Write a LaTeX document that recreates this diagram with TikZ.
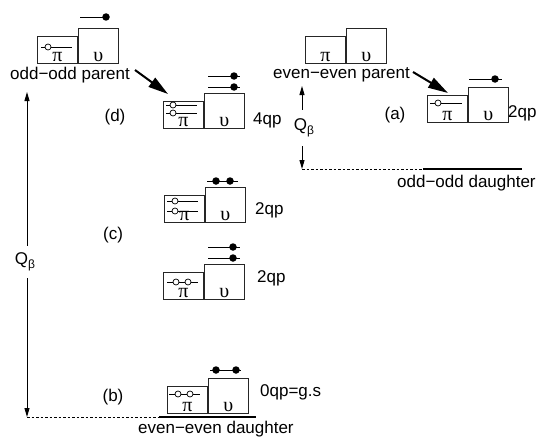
\documentclass[tikz,border=0pt]{standalone}
\usepackage{fontspec}
\setmainfont{Liberation Sans}
\newfontfamily\grkfont{Liberation Serif}
\usetikzlibrary{arrows.meta,calc}
\newcommand\nucpair[3]{%
  \node[pbox] (#1p) at (#2,#3) {};
  \node[nbox] (#1n) at (#1p.south east) {};
  \node[anchor=base, font=\grkfont\fontsize{20}{22}\selectfont] (#1pl) at ($(#1p.south)+(0,-3)$) {π};
  \node[anchor=base, font=\grkfont\fontsize{20}{22}\selectfont] (#1nl) at ($(#1n.south)+(0,-3)$) {υ};
}
\begin{document}
\begin{tikzpicture}[x=1pt,y=-1pt,
  every node/.style={font=\fontsize{17}{20}\selectfont, inner sep=0pt},
  pbox/.style={draw=black!85, line width=0.9pt, minimum width=40pt, minimum height=27pt, anchor=south west},
  nbox/.style={draw=black!85, line width=0.9pt, minimum width=40pt, minimum height=35pt, anchor=south west},
  lvl/.style={line width=0.8pt},
  hole/.style={draw, fill=white, line width=0.7pt, circle, minimum size=6pt},
  part/.style={fill=black, circle, minimum size=7.5pt},
  bigarrow/.style={line width=2pt, -{Triangle[length=20pt,width=11pt]}},
  qarr/.style={line width=0.9pt, -{Triangle[length=9pt,width=5pt]}},
  dotline/.style={dash pattern=on 2.5pt off 2pt, line width=0.8pt},
  baseline/.style={line width=2pt},
  qlab/.style={inner sep=0pt, inner ysep=7pt},
]
\useasboundingbox (0,0) rectangle (540,436);

% odd-odd parent
\nucpair{oo}{37}{64}
\draw[lvl] (41,47) -- (72,47); \node[hole] (ooh) at (48,47) {};
\draw[lvl] (80,17) -- (109,17); \node[part] (ood) at (106,17) {};
\node[anchor=west] (oopar) at (10,75) {odd−odd parent};

% even-even parent
\nucpair{ee}{305}{64}
\node[anchor=west] (eepar) at (273,75) {even−even parent};

% (a)
\nucpair{a}{427}{123}
\draw[lvl] (430,103) -- (462,103); \node[hole] (ah) at (438,103) {};
\draw[lvl] (469,79) -- (502,79); \node[part] (ad) at (495,79) {};
\node (lal) at (395,115) {(a)};
\node[anchor=west] (qa) at (508,113) {2qp};

% (d)
\nucpair{d}{163}{129}
\draw[lvl] (166,105) -- (197,105); \node[hole] (dh1) at (173,105) {};
\draw[lvl] (166,113) -- (197,113); \node[hole] (dh2) at (173,113) {};
\draw[lvl] (208,76) -- (240,76); \node[part] (dd1) at (234,76) {};
\draw[lvl] (208,87) -- (240,87); \node[part] (dd2) at (234,87) {};
\node (ldl) at (115,117) {(d)};
\node[anchor=west] (qd) at (253,120) {4qp};

% (c) upper
\nucpair{cu}{164}{223}
\draw[lvl] (167,201) -- (198,201); \node[hole] (cuh1) at (175,201) {};
\draw[lvl] (167,211) -- (198,211); \node[hole] (cuh2) at (175,211) {};
\draw[lvl] (207,181) -- (238,181); \node[part] (cud1) at (216,181) {}; \node[part] (cud2) at (230,181) {};
\node[anchor=west] (qc1) at (255,210) {2qp};
\node (lcl) at (113,235) {(c)};

% (c) lower
\nucpair{cl}{163}{300}
\draw[lvl] (167,282) -- (198,282); \node[hole] (clh1) at (176,282) {}; \node[hole] (clh2) at (188,282) {};
\draw[lvl] (208,247) -- (240,247); \node[part] (cld1) at (233,247) {};
\draw[lvl] (208,258) -- (240,258); \node[part] (cld2) at (233,258) {};
\node[anchor=west] (qc2) at (257,278) {2qp};

% (b)
\nucpair{b}{167}{414}
\draw[lvl] (169,394) -- (200,394); \node[hole] (bh1) at (178,394) {}; \node[hole] (bh2) at (190,394) {};
\draw[lvl] (210,370) -- (241,370); \node[part] (bd1) at (216,370) {}; \node[part] (bd2) at (236,370) {};
\node (lbl) at (113,397) {(b)};
\node[anchor=west] (qb) at (260,392) {0qp=g.s};
\coordinate (bbl) at (159,417); \coordinate (bbr) at (256,417);
\draw[baseline] (bbl) -- (bbr);
\node[anchor=base west] (eedau) at (138,433) {even−even daughter};

% odd-odd daughter level
\coordinate (abl) at (423,169); \coordinate (abr) at (522,169);
\draw[baseline] (abl) -- (abr);
\node[anchor=west] (oodau) at (397,183) {odd−odd daughter};

% big arrows
\coordinate (a1s) at (135,70); \coordinate (a1e) at (168,94);
\draw[bigarrow] (a1s) -- (a1e);
\coordinate (a2s) at (413,72); \coordinate (a2e) at (448,93);
\draw[bigarrow] (a2s) -- (a2e);

% left Q beta
\coordinate (lqt) at (27,92); \coordinate (lqb) at (27,417);
\node[qlab] (lq) at (25,262) {Q\raisebox{-4pt}{\fontsize{12}{12}\selectfont β}};
\draw[qarr] (lq.north -| lqt) -- (lqt);
\draw[qarr] (lq.south -| lqb) -- (lqb);
\draw[dotline] (lqb) -- (bbl);

% right Q beta
\coordinate (rqt) at (302,86); \coordinate (rqb) at (302,169);
\node[qlab, inner ysep=9pt] (rq) at (304,128) {Q\raisebox{-4pt}{\fontsize{12}{12}\selectfont β}};
\draw[qarr] (rq.north -| rqt) -- (rqt);
\draw[qarr] (rq.south -| rqb) -- (rqb);
\draw[dotline] (rqb) -- (abl);
\end{tikzpicture}
\end{document}
